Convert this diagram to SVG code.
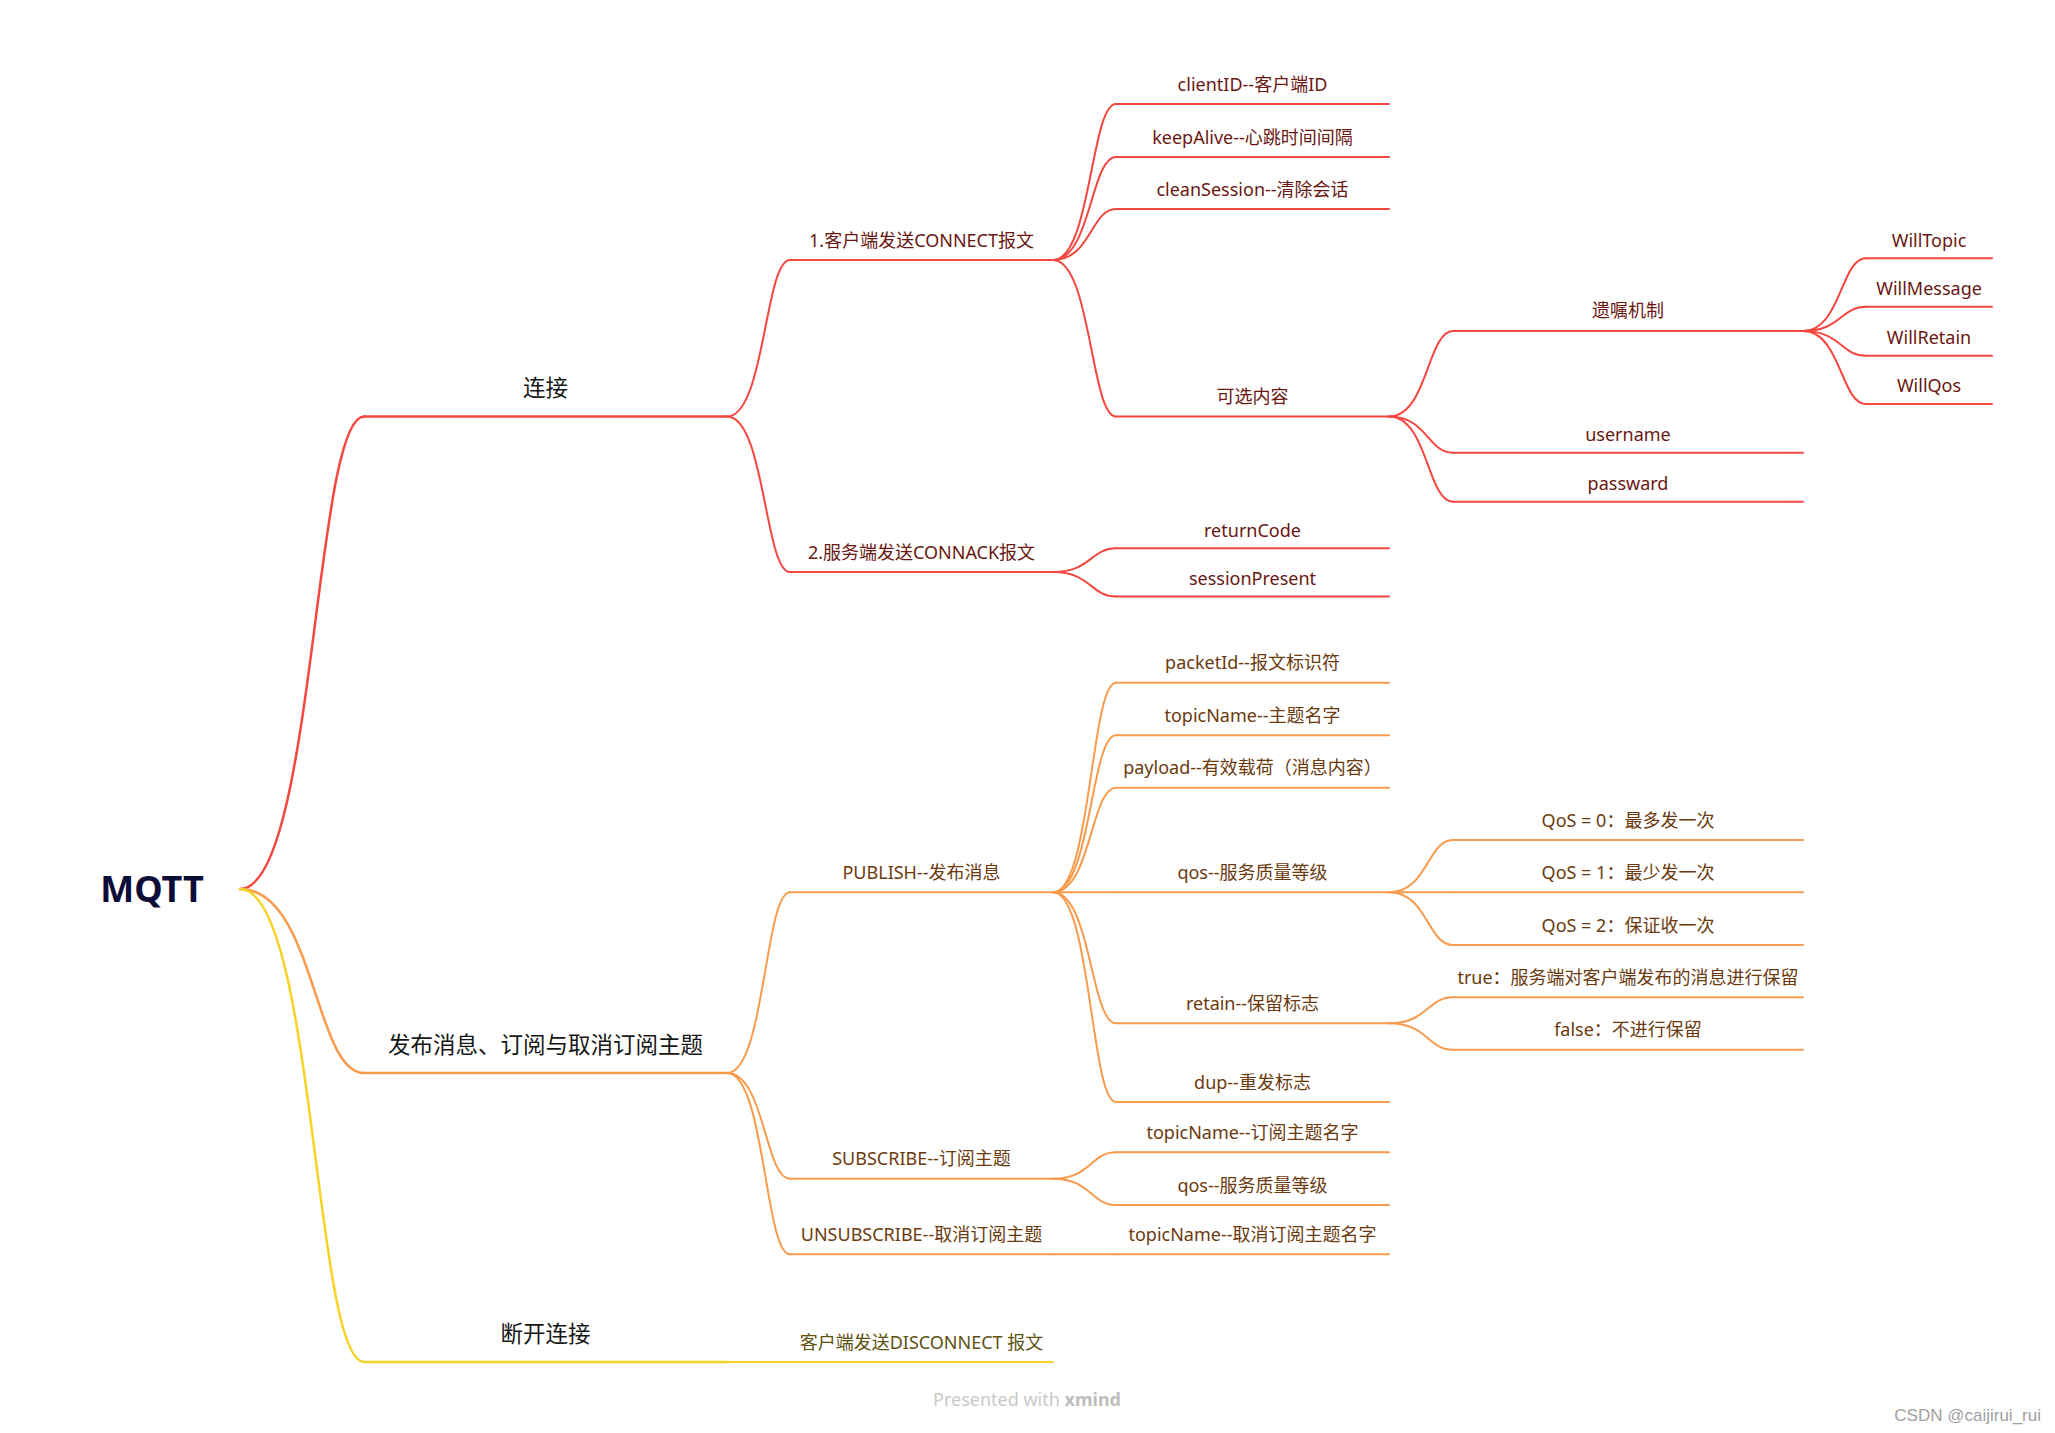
<svg xmlns="http://www.w3.org/2000/svg" width="2055" height="1433" viewBox="0 0 2055 1433">
<style>
  .bg { fill: #ffffff; }
  .c { fill: none; stroke-width: 2; stroke-linecap: round; }
  .c1 { stroke-width: 2.5; }
  .red { stroke: #F4473F; }
  .org { stroke: #F89B4C; }
  .yel { stroke: #F6D426; }
  .t { font-family: "Noto Sans", "Noto Sans CJK SC", sans-serif; font-size: 18px; text-anchor: middle; }
  .tr { fill: #6A1712; }
  .to { fill: #6B3A0E; }
  .ty { fill: #5E5210; }
  .l1 { font-size: 22.5px; fill: #161616; }
  .root { font-family: "Noto Sans", "Noto Sans CJK SC", sans-serif; font-size: 36px; font-weight: bold; fill: #0C0C38; text-anchor: middle; }
  .wm { font-family: "Noto Sans", sans-serif; font-size: 18px; fill: #C9C9C9; text-anchor: middle; }
  .csdn { font-family: "Liberation Sans", sans-serif; font-size: 17px; fill: #A0A0A0; text-anchor: end; }
</style>
<rect class="bg" x="0" y="0" width="2055" height="1433"/>

<g id="connectors">
  <path class="c c1 red" d="M240 889 C314.4 889 314.4 416.5 364 416.5"/>
  <path class="c c1 org" d="M240 889 C314.4 889 314.4 1073 364 1073"/>
  <path class="c c1 yel" d="M240 889 C314.4 889 314.4 1362 364 1362"/>
  <path class="c red" d="M727 416.5 C764.8 416.5 764.8 260 790 260"/>
  <path class="c red" d="M727 416.5 C764.8 416.5 764.8 572 790 572"/>
  <path class="c org" d="M727 1073 C764.8 1073 764.8 892.3 790 892.3"/>
  <path class="c org" d="M727 1073 C764.8 1073 764.8 1178.7 790 1178.7"/>
  <path class="c org" d="M727 1073 C764.8 1073 764.8 1254.3 790 1254.3"/>
  <path class="c yel" d="M727 1362 H790"/>
  <path class="c red" d="M1053 260 C1090.8 260 1090.8 104 1116 104"/>
  <path class="c red" d="M1053 260 C1090.8 260 1090.8 157 1116 157"/>
  <path class="c red" d="M1053 260 C1090.8 260 1090.8 209 1116 209"/>
  <path class="c red" d="M1053 260 C1090.8 260 1090.8 416.5 1116 416.5"/>
  <path class="c red" d="M1053 572 C1090.8 572 1090.8 548.3 1116 548.3"/>
  <path class="c red" d="M1053 572 C1090.8 572 1090.8 596.5 1116 596.5"/>
  <path class="c org" d="M1053 892.3 C1090.8 892.3 1090.8 682.7 1116 682.7"/>
  <path class="c org" d="M1053 892.3 C1090.8 892.3 1090.8 735.3 1116 735.3"/>
  <path class="c org" d="M1053 892.3 C1090.8 892.3 1090.8 787.7 1116 787.7"/>
  <path class="c org" d="M1053 892.3 H1116"/>
  <path class="c org" d="M1053 892.3 C1090.8 892.3 1090.8 1023.3 1116 1023.3"/>
  <path class="c org" d="M1053 892.3 C1090.8 892.3 1090.8 1102 1116 1102"/>
  <path class="c org" d="M1053 1178.7 C1090.8 1178.7 1090.8 1152.3 1116 1152.3"/>
  <path class="c org" d="M1053 1178.7 C1090.8 1178.7 1090.8 1205 1116 1205"/>
  <path class="c org" d="M1053 1254.3 H1116"/>
  <path class="c red" d="M1389 416.5 C1427.4 416.5 1427.4 331 1453 331"/>
  <path class="c red" d="M1389 416.5 C1427.4 416.5 1427.4 452.7 1453 452.7"/>
  <path class="c red" d="M1389 416.5 C1427.4 416.5 1427.4 501.7 1453 501.7"/>
  <path class="c org" d="M1389 892.3 C1427.4 892.3 1427.4 840 1453 840"/>
  <path class="c org" d="M1389 892.3 H1453"/>
  <path class="c org" d="M1389 892.3 C1427.4 892.3 1427.4 945 1453 945"/>
  <path class="c org" d="M1389 1023.3 C1427.4 1023.3 1427.4 997.3 1453 997.3"/>
  <path class="c org" d="M1389 1023.3 C1427.4 1023.3 1427.4 1049.7 1453 1049.7"/>
  <path class="c red" d="M1803 331 C1840.8 331 1840.8 258.3 1866 258.3"/>
  <path class="c red" d="M1803 331 C1840.8 331 1840.8 306.7 1866 306.7"/>
  <path class="c red" d="M1803 331 C1840.8 331 1840.8 355.7 1866 355.7"/>
  <path class="c red" d="M1803 331 C1840.8 331 1840.8 404 1866 404"/>
</g>

<g id="node-mqtt"><text class="root" x="152" y="902">MQTT</text></g>

<g id="node-lianjie"><path class="c c1 red" d="M364 416.5 H727"/><text class="t l1" x="545.5" y="396">连接</text></g>
<g id="node-fabu"><path class="c c1 org" d="M364 1073 H727"/><text class="t l1" x="545.5" y="1052.5">发布消息、订阅与取消订阅主题</text></g>
<g id="node-duankai"><path class="c c1 yel" d="M364 1362 H727"/><text class="t l1" x="545.5" y="1341.5">断开连接</text></g>

<g id="node-connect"><path class="c red" d="M790 260 H1053"/><text class="t tr" x="921.5" y="246.5">1.客户端发送CONNECT报文</text></g>
<g id="node-connack"><path class="c red" d="M790 572 H1053"/><text class="t tr" x="921.5" y="558.5">2.服务端发送CONNACK报文</text></g>
<g id="node-publish"><path class="c org" d="M790 892.3 H1053"/><text class="t to" x="921.5" y="878.8">PUBLISH--发布消息</text></g>
<g id="node-subscribe"><path class="c org" d="M790 1178.7 H1053"/><text class="t to" x="921.5" y="1165.2">SUBSCRIBE--订阅主题</text></g>
<g id="node-unsubscribe"><path class="c org" d="M790 1254.3 H1053"/><text class="t to" x="921.5" y="1240.8">UNSUBSCRIBE--取消订阅主题</text></g>
<g id="node-disconnect"><path class="c yel" d="M790 1362 H1053"/><text class="t ty" x="921.5" y="1348.5">客户端发送DISCONNECT 报文</text></g>

<g id="node-clientid"><path class="c red" d="M1116 104 H1389"/><text class="t tr" x="1252.5" y="91">clientID--客户端ID</text></g>
<g id="node-keepalive"><path class="c red" d="M1116 157 H1389"/><text class="t tr" x="1252.5" y="144">keepAlive--心跳时间间隔</text></g>
<g id="node-cleansession"><path class="c red" d="M1116 209 H1389"/><text class="t tr" x="1252.5" y="196">cleanSession--清除会话</text></g>
<g id="node-optional"><path class="c red" d="M1116 416.5 H1389"/><text class="t tr" x="1252.5" y="402.5">可选内容</text></g>
<g id="node-returncode"><path class="c red" d="M1116 548.3 H1389"/><text class="t tr" x="1252.5" y="536.5">returnCode</text></g>
<g id="node-sessionpresent"><path class="c red" d="M1116 596.5 H1389"/><text class="t tr" x="1252.5" y="584.5">sessionPresent</text></g>

<g id="node-packetid"><path class="c org" d="M1116 682.7 H1389"/><text class="t to" x="1252.5" y="669.2">packetId--报文标识符</text></g>
<g id="node-topicname"><path class="c org" d="M1116 735.3 H1389"/><text class="t to" x="1252.5" y="721.8">topicName--主题名字</text></g>
<g id="node-payload"><path class="c org" d="M1116 787.7 H1389"/><text class="t to" x="1252.5" y="774.2">payload--有效载荷（消息内容）</text></g>
<g id="node-qos"><path class="c org" d="M1116 892.3 H1389"/><text class="t to" x="1252.5" y="878.8">qos--服务质量等级</text></g>
<g id="node-retain"><path class="c org" d="M1116 1023.3 H1389"/><text class="t to" x="1252.5" y="1009.8">retain--保留标志</text></g>
<g id="node-dup"><path class="c org" d="M1116 1102 H1389"/><text class="t to" x="1252.5" y="1088.5">dup--重发标志</text></g>
<g id="node-sub-topicname"><path class="c org" d="M1116 1152.3 H1389"/><text class="t to" x="1252.5" y="1138.8">topicName--订阅主题名字</text></g>
<g id="node-sub-qos"><path class="c org" d="M1116 1205 H1389"/><text class="t to" x="1252.5" y="1191.5">qos--服务质量等级</text></g>
<g id="node-unsub-topicname"><path class="c org" d="M1116 1254.3 H1389"/><text class="t to" x="1252.5" y="1240.8">topicName--取消订阅主题名字</text></g>

<g id="node-will"><path class="c red" d="M1453 331 H1803"/><text class="t tr" x="1628" y="317">遗嘱机制</text></g>
<g id="node-username"><path class="c red" d="M1453 452.7 H1803"/><text class="t tr" x="1628" y="441">username</text></g>
<g id="node-passward"><path class="c red" d="M1453 501.7 H1803"/><text class="t tr" x="1628" y="490">passward</text></g>

<g id="node-qos0"><path class="c org" d="M1453 840 H1803"/><text class="t to" x="1628" y="826.5">QoS = 0：最多发一次</text></g>
<g id="node-qos1"><path class="c org" d="M1453 892.3 H1803"/><text class="t to" x="1628" y="878.8">QoS = 1：最少发一次</text></g>
<g id="node-qos2"><path class="c org" d="M1453 945 H1803"/><text class="t to" x="1628" y="931.5">QoS = 2：保证收一次</text></g>
<g id="node-true"><path class="c org" d="M1453 997.3 H1803"/><text class="t to" x="1628" y="983.8">true：服务端对客户端发布的消息进行保留</text></g>
<g id="node-false"><path class="c org" d="M1453 1049.7 H1803"/><text class="t to" x="1628" y="1036.2">false：不进行保留</text></g>

<g id="node-willtopic"><path class="c red" d="M1866 258.3 H1992"/><text class="t tr" x="1929" y="246.6">WillTopic</text></g>
<g id="node-willmessage"><path class="c red" d="M1866 306.7 H1992"/><text class="t tr" x="1929" y="295">WillMessage</text></g>
<g id="node-willretain"><path class="c red" d="M1866 355.7 H1992"/><text class="t tr" x="1929" y="344">WillRetain</text></g>
<g id="node-willqos"><path class="c red" d="M1866 404 H1992"/><text class="t tr" x="1929" y="392.3">WillQos</text></g>

<text class="wm" x="1027" y="1406">Presented with <tspan font-weight="bold" fill="#BDBDBD">xmind</tspan></text>
<text class="csdn" x="2041" y="1421">CSDN @caijirui_rui</text>
</svg>
